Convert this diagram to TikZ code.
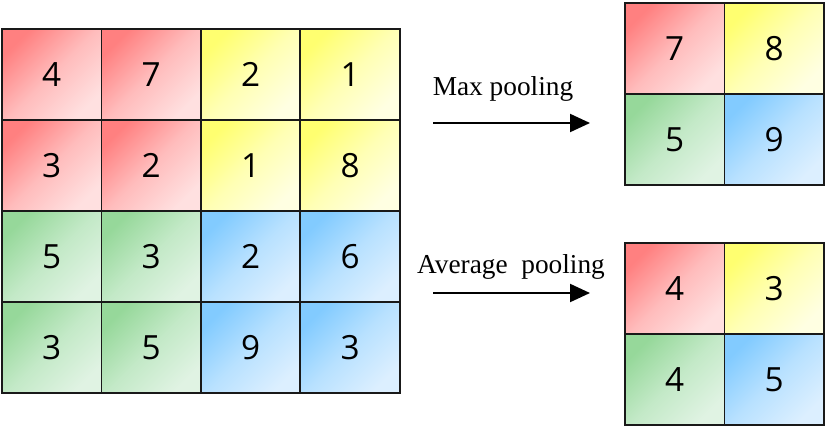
\documentclass[tikz,border=0pt]{standalone}
\usepackage{fontspec}
\setmainfont{Liberation Serif}
\newfontfamily\digitfont{Open Sans}
\usepackage{tikz}
\usetikzlibrary{positioning,arrows.meta}
\definecolor{redA}{RGB}{255,128,128}
\definecolor{redM}{RGB}{255,188,188}
\definecolor{redB}{RGB}{255,224,224}
\definecolor{yelA}{RGB}{255,255,112}
\definecolor{yelM}{RGB}{255,255,180}
\definecolor{yelB}{RGB}{255,255,226}
\definecolor{grnA}{RGB}{150,216,154}
\definecolor{grnM}{RGB}{195,233,199}
\definecolor{grnB}{RGB}{224,243,227}
\definecolor{bluA}{RGB}{130,203,255}
\definecolor{bluM}{RGB}{184,225,255}
\definecolor{bluB}{RGB}{220,239,255}
\definecolor{clrBorders}{RGB}{25,25,25}
\tikzstyle{cell}=[minimum width=74.6pt, minimum height=68.25pt,
inner sep=0pt, outer sep=0pt, font=\digitfont\fontsize{25}{25}\selectfont]
\tikzstyle{redbox}=[cell, top color=redA, bottom color=redB, middle color=redM, shading angle=45]
\tikzstyle{yelbox}=[cell, top color=yelA, bottom color=yelB, middle color=yelM, shading angle=45]
\tikzstyle{grnbox}=[cell, top color=grnA, bottom color=grnB, middle color=grnM, shading angle=45]
\tikzstyle{blubox}=[cell, top color=bluA, bottom color=bluB, middle color=bluM, shading angle=45]
\tikzstyle{border}=[draw=clrBorders, line width=1.4pt]
\tikzstyle{myarrow}=[-{Triangle[length=15pt,width=13.5pt]}, line width=1.6pt]
\tikzstyle{lbl}=[anchor=base, font=\fontsize{20.5}{20.5}\selectfont]

\begin{document}
\begin{tikzpicture}[x=0.75pt, y=-0.75pt, node distance=0pt]
		\useasboundingbox (0,0) rectangle (827,428);

		% input feature map (4x4)
		\node[redbox] (a11) at (51.75,74.5) {4};
		\node[redbox, right=of a11] (a12) {7};
		\node[yelbox, right=of a12] (a13) {2};
		\node[yelbox, right=of a13] (a14) {1};

		\node[redbox, below=of a11] (a21) {3};
		\node[redbox, right=of a21] (a22) {2};
		\node[yelbox, right=of a22] (a23) {1};
		\node[yelbox, right=of a23] (a24) {8};

		\node[grnbox, below=of a21] (a31) {5};
		\node[grnbox, right=of a31] (a32) {3};
		\node[blubox, right=of a32] (a33) {2};
		\node[blubox, right=of a33] (a34) {6};

		\node[grnbox, below=of a31] (a41) {3};
		\node[grnbox, right=of a41] (a42) {5};
		\node[blubox, right=of a42] (a43) {9};
		\node[blubox, right=of a43] (a44) {3};

		% max pooling result
		\node[redbox] (m11) at (674.75,48.5) {7};
		\node[yelbox, right=of m11] (m12) {8};
		\node[grnbox, below=of m11] (m21) {5};
		\node[blubox, right=of m21] (m22) {9};

		% average pooling result
		\node[redbox] (p11) at (674.75,288.5) {4};
		\node[yelbox, right=of p11] (p12) {3};
		\node[grnbox, below=of p11] (p21) {4};
		\node[blubox, right=of p21] (p22) {5};

		% cell borders on top of the shadings
		\foreach \c in {a11,a12,a13,a14,a21,a22,a23,a24,a31,a32,a33,a34,a41,a42,a43,a44,m11,m12,m21,m22,p11,p12,p21,p22}
			\draw[border] (\c.north west) rectangle (\c.south east) ;

		% arrows
		\coordinate (maxs) at (433,123);
		\coordinate (maxe) at (590,123);
		\draw[myarrow] (maxs) -- (maxe) ;
		\node[lbl] (maxlbl) at (503,95) {Max pooling};

		\coordinate (avgs) at (433,293);
		\coordinate (avge) at (590,293);
		\draw[myarrow] (avgs) -- (avge) ;
		\node[lbl] (avglbl) at (511,273) {Average\ \ pooling};

	\end{tikzpicture}
\end{document}
